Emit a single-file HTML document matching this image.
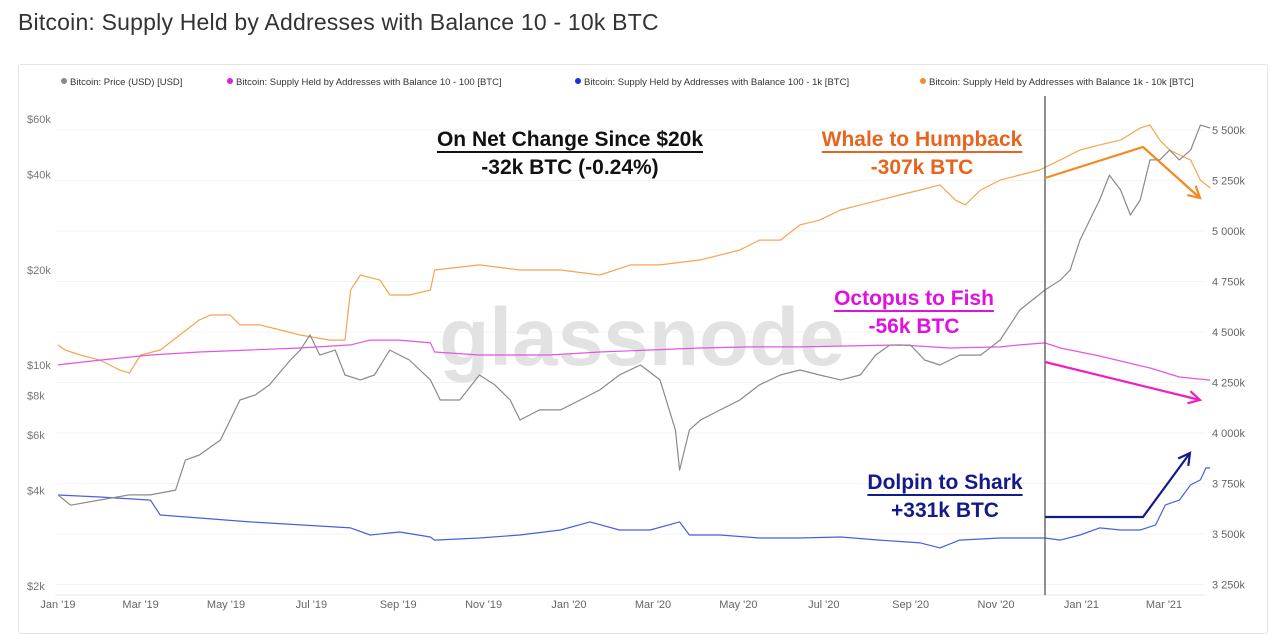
<!DOCTYPE html>
<html><head><meta charset="utf-8"><style>
body{margin:0;background:#fff;width:1280px;height:629px;overflow:hidden;font-family:"Liberation Sans",sans-serif}
#title{position:absolute;left:18px;top:9px;font-size:23px;color:#333;letter-spacing:0.2px}
#frame{position:absolute;left:18px;top:64px;width:1248px;height:568px;border:1px solid #e4e4e4;border-radius:3px}
svg{position:absolute;left:0;top:0}
</style></head><body>
<div id="title">Bitcoin: Supply Held by Addresses with Balance 10 - 10k BTC</div>
<div id="frame"></div>
<svg id="chart" width="1280" height="629"></svg>
<script>
// data: days since 2019-01-01
const monthLabels=["Jan '19","Mar '19","May '19","Jul '19","Sep '19","Nov '19","Jan '20","Mar '20","May '20","Jul '20","Sep '20","Nov '20","Jan '21","Mar '21"];
const monthDays=[0,59,120,181,243,304,365,425,486,547,609,670,731,790];
const priceTicks=[2000,4000,6000,8000,10000,20000,40000,60000];
const priceTickLabels=["$2k","$4k","$6k","$8k","$10k","$20k","$40k","$60k"];
const supplyTicks=[3250,3500,3750,4000,4250,4500,4750,5000,5250,5500];
const supplyTickLabels=["3 250k","3 500k","3 750k","4 000k","4 250k","4 500k","4 750k","5 000k","5 250k","5 500k"];
const priceDays=[0,9,30,51,66,84,91,101,116,130,141,151,166,173,180,187,198,205,216,226,237,251,266,273,287,301,312,323,330,344,359,373,387,401,416,430,441,444,451,459,473,487,501,516,530,544,559,573,584,594,609,619,630,644,659,673,687,705,716,723,730,737,744,751,759,766,773,780,787,794,801,809,816,823];
const priceVals=[3880,3600,3740,3880,3880,4020,5000,5190,5790,7750,8040,8650,10370,11150,12440,10750,11150,9300,8970,9300,11150,10370,8970,7750,7750,9300,8650,7750,6700,7210,7210,7750,8340,9300,10000,8970,6230,4650,6230,6700,7210,7750,8650,9300,9640,9300,8970,9300,10750,11560,11560,10370,10000,10750,10750,12000,14930,17270,18580,20000,24870,28770,33270,39900,35790,29840,33270,44560,44560,47870,44560,47870,57440,56230];
const whaleDays=[0,5,16,30,44,51,59,73,87,101,109,123,130,144,159,173,194,205,209,216,230,237,251,266,269,301,330,359,387,409,430,459,487,501,516,530,544,559,573,587,601,616,630,641,648,659,673,687,701,716,730,744,759,773,780,787,794,801,809,816,823];
const whaleVals=[4436,4411,4386,4361,4312,4297,4386,4411,4485,4560,4584,4584,4535,4535,4510,4485,4460,4460,4708,4782,4757,4683,4683,4708,4807,4832,4807,4807,4782,4832,4832,4857,4906,4955,4955,5030,5054,5104,5129,5153,5178,5203,5228,5153,5129,5203,5252,5277,5302,5352,5401,5426,5450,5510,5525,5450,5401,5376,5352,5252,5213];
const fishDays=[0,30,66,101,137,173,209,223,244,266,269,301,351,387,423,459,494,530,566,601,637,673,687,705,716,744,780,801,823];
const fishVals=[4337,4361,4386,4401,4411,4421,4436,4460,4460,4446,4401,4386,4386,4401,4411,4421,4426,4426,4431,4436,4421,4426,4436,4446,4421,4381,4322,4277,4262];
const sharkDays=[0,30,66,73,101,137,173,209,223,244,266,269,301,330,359,380,401,423,444,451,473,501,530,559,587,616,630,644,673,705,716,730,744,759,773,784,791,801,809,816,820,823];
const sharkVals=[3693,3683,3668,3594,3579,3560,3545,3530,3495,3510,3485,3470,3480,3495,3520,3560,3520,3520,3560,3495,3495,3480,3480,3485,3470,3456,3431,3470,3480,3480,3470,3495,3530,3520,3520,3545,3644,3668,3743,3768,3827,3827];

const svg=document.getElementById('chart');
const NS='http://www.w3.org/2000/svg';
const X=d=>58+d*1.4;
const YP=v=>365-316*Math.log10(v/10000);
const YS=v=>130+(5500-v)/250*50.5;
function mk(tag,attrs,txt){const e=document.createElementNS(NS,tag);for(const k in attrs)e.setAttribute(k,attrs[k]);if(txt!==undefined)e.textContent=txt;svg.appendChild(e);return e;}

supplyTicks.forEach((v,i)=>{
 const g=mk('line',{x1:55,x2:1205,y1:YS(v),y2:YS(v),stroke:'#f3f3f3'});
 
 
 const t=mk('text',{x:1212,y:YS(v)+4,'font-size':11,fill:'#666'},supplyTickLabels[i]);
 
 
});
priceTicks.forEach((v,i)=>{
 const t=mk('text',{x:27,y:YP(v)+4,'font-size':11,fill:'#777'},priceTickLabels[i]);
 
 
});
monthDays.forEach((d,i)=>{
 const t=mk('text',{x:X(d),y:608,'font-size':11,fill:'#666','text-anchor':'middle'},monthLabels[i]);
 
 
});
mk('line',{x1:55,x2:1205,y1:595,y2:595,stroke:'#e6e6e6'});

const wm=mk('text',{x:642,y:365,'font-size':82,'font-weight':'bold',fill:'#e2e2e2','text-anchor':'middle'},'glassnode');



const legend=[["#888","Bitcoin: Price (USD) [USD]",64],["#e01fd8","Bitcoin: Supply Held by Addresses with Balance 10 - 100 [BTC]",230],["#1a2fe0","Bitcoin: Supply Held by Addresses with Balance 100 - 1k [BTC]",578],["#f28c28","Bitcoin: Supply Held by Addresses with Balance 1k - 10k [BTC]",923]];
legend.forEach(l=>{
 const c=mk('circle',{cx:l[2],cy:81,r:3,fill:l[0]});
 
 
 const t=mk('text',{x:l[2]+6,y:85,'font-size':9.5,fill:'#333'},l[1]);
 
 
});

function line(days,vals,yf,color,w,name){
 const p=days.map((d,i)=>X(d).toFixed(1)+','+yf(vals[i]).toFixed(1)).join(' ');
 const e=mk('polyline',{points:p,fill:'none',stroke:color,'stroke-width':w,'stroke-linejoin':'round'});
 
 
}
line(whaleDays,whaleVals,YS,'#f5a550',1.2,'series-1k-10k');
line(fishDays,fishVals,YS,'#e455e0',1.2,'series-10-100');
line(sharkDays,sharkVals,YS,'#4a5fe0',1.2,'series-100-1k');
line(priceDays,priceVals,YP,'#8a8a8a',1.2,'series-price');

const vl=mk('line',{x1:1045,x2:1045,y1:96,y2:595,stroke:'#555','stroke-width':1.3});



function arrow(pts,color,name){
 const e=mk('polyline',{points:pts.map(p=>p.join(',')).join(' '),fill:'none',stroke:color,'stroke-width':2.2});
 
 
 const a=pts[pts.length-2],b=pts[pts.length-1];
 const ang=Math.atan2(b[1]-a[1],b[0]-a[0]);
 const L=13;
 const h=[[b[0]-L*Math.cos(ang-0.5),b[1]-L*Math.sin(ang-0.5)],b,[b[0]-L*Math.cos(ang+0.5),b[1]-L*Math.sin(ang+0.5)]];
 const hh=mk('polyline',{points:h.map(p=>p.join(',')).join(' '),fill:'none',stroke:color,'stroke-width':2.2});
 
 
}
arrow([[1045,178],[1143,147],[1200,198]],'#f5881f','whale-arrow');
arrow([[1045,362],[1200,400]],'#f020c0','fish-arrow');
arrow([[1045,517],[1143,517],[1190,453]],'#151a8a','shark-arrow');

function note(x,y,txt,color,underline,name){
 const t=mk('text',{x:x,y:y,'font-size':21,'font-weight':'bold',fill:color,'text-anchor':'middle'},txt);
 
 
 if(underline){const w=t.getComputedTextLength();mk('line',{x1:x-w/2,x2:x+w/2,y1:y+6,y2:y+6,stroke:color,'stroke-width':2});}
}
note(570,146,'On Net Change Since $20k','#111',true,'net-change-title');
note(570,174,'-32k BTC (-0.24%)','#111',false,'net-change-value');
note(922,146,'Whale to Humpback','#e8641e',true,'whale-title');
note(922,174,'-307k BTC','#e8641e',false,'whale-value');
note(914,305,'Octopus to Fish','#e010e0',true,'fish-title');
note(914,333,'-56k BTC','#e010e0',false,'fish-value');
note(945,489,'Dolpin to Shark','#151a8a',true,'shark-title');
note(945,517,'+331k BTC','#151a8a',false,'shark-value');
</script>
</body></html>
